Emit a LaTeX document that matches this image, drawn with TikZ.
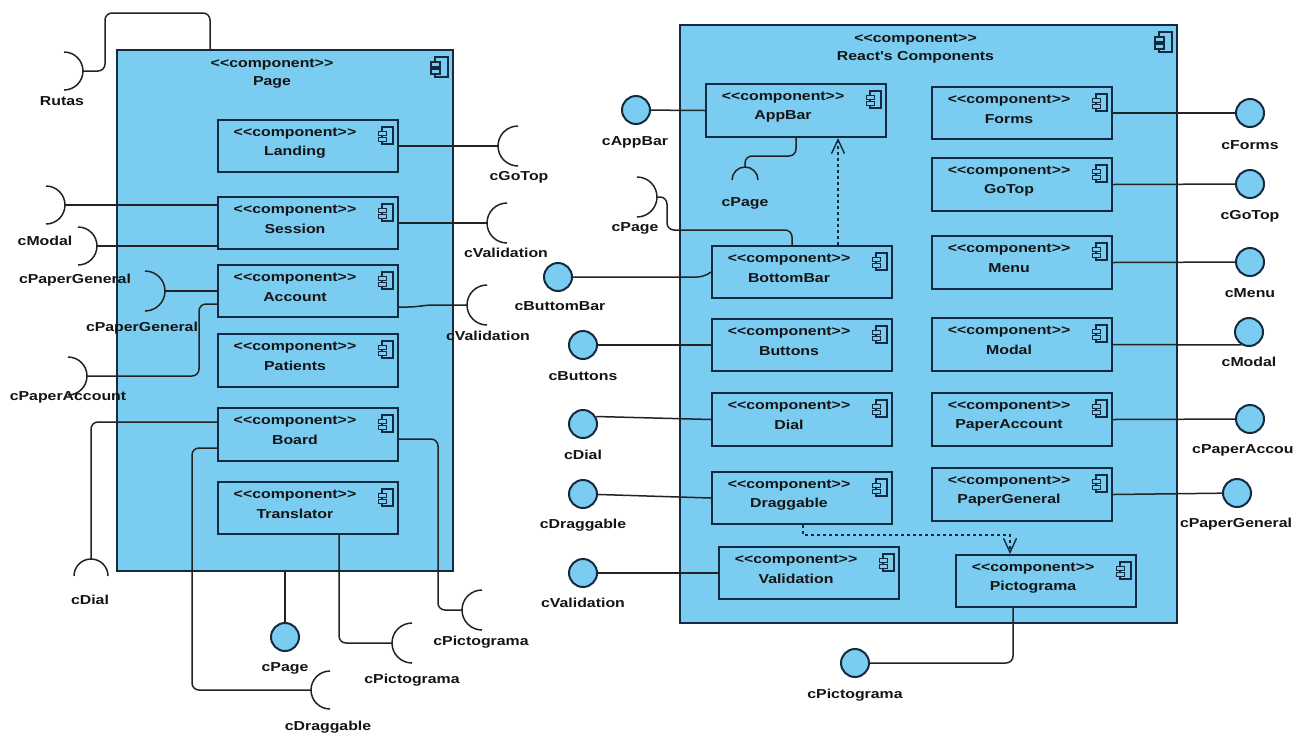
\documentclass[tikz,border=0pt]{standalone}
\usepackage{fontspec}
\newfontfamily\lblfont{Liberation Sans}[FakeStretch=1.22]
\usetikzlibrary{calc,fit,arrows.meta}
\definecolor{cfill}{RGB}{122,204,241}
\definecolor{cborder}{RGB}{20,42,64}
\definecolor{cline}{RGB}{35,35,35}
\definecolor{ctext}{RGB}{20,20,20}
\tikzset{
  compbox/.style={draw=cborder, line width=2pt, fill=cfill, inner sep=0pt},
  txt/.style={font=\lblfont\bfseries\fontsize{13}{15}\selectfont, text=ctext, inner sep=0pt},
  conn/.style={draw=cline, line width=1.5pt, rounded corners=7pt},
  sock/.style={draw=cline, line width=1.5pt},
  lolli/.style={circle, draw=cborder, line width=2pt, fill=cfill, minimum size=28pt, inner sep=0pt},
  dep/.style={draw=cborder, line width=1.4pt, dash pattern=on 3pt off 3pt, -{Straight Barb[length=14pt,width=13pt]}},
  cicon/.pic={
    \draw[draw=cborder, line width=1.3pt, fill=cfill] (-13,0) rectangle (0,20);
    \draw[draw=cborder, line width=1.3pt, fill=cfill] (-17,5) rectangle (-8,10);
    \draw[draw=cborder, line width=1.3pt, fill=cfill] (-17,12) rectangle (-8,17);
  }
}
\newcommand\mycomp[9]{%
  \node[compbox, fit={(#2,#3)(#4,#5)}] (#1) {};
  \node[txt] (#1-s) at ($(#1.north)+(-13,#7)$) {<\kern0pt<component>\kern0pt>};
  \node[txt] (#1-n) at ($(#1.north)+(-13,#8)$) {#6};
  \pic[scale=#9] at ($(#1.north east)+(-6,8)$) {cicon};
}
\newcommand\sockR[4]{\coordinate (#1) at (#2+#4,#3); \draw[sock] (#2,#3-#4) arc[start angle=-90,end angle=90,radius=#4];}
\newcommand\sockL[4]{\coordinate (#1) at (#2-#4,#3); \draw[sock] (#2,#3-#4) arc[start angle=270,end angle=90,radius=#4];}
\newcommand\sockD[4]{\coordinate (#1) at (#2,#3-#4); \draw[sock] (#2-#4,#3) arc[start angle=180,end angle=360,radius=#4];}
\begin{document}
\begin{tikzpicture}[x=1pt,y=-1pt]
\fill[white] (0,0) rectangle (1303,737);
\useasboundingbox (0,0) rectangle (1303,737);
% ---- containers
\mycomp{page}{117}{50}{453}{571}{Page}{16}{33}{1}
\mycomp{react}{680}{25}{1177}{623}{React's Components}{16}{33}{1}
% ---- Page inner
\mycomp{landing}{218}{120}{398}{172}{Landing}{15}{33}{0.85}
\mycomp{session}{218}{197}{398}{249}{Session}{15}{33}{0.85}
\mycomp{account}{218}{265}{398}{317}{Account}{15}{33}{0.85}
\mycomp{patients}{218}{334}{398}{387}{Patients}{15}{33}{0.85}
\mycomp{board}{218}{408}{398}{461}{Board}{15}{33}{0.85}
\mycomp{translator}{218}{482}{398}{534}{Translator}{15}{33}{0.85}
% ---- React inner, left column
\mycomp{appbar}{706}{84}{886}{137}{AppBar}{15}{33}{0.85}
\mycomp{bottombar}{712}{246}{892}{298}{BottomBar}{15}{33}{0.85}
\mycomp{buttons}{712}{319}{892}{371}{Buttons}{15}{33}{0.85}
\mycomp{dial}{712}{393}{892}{446}{Dial}{15}{33}{0.85}
\mycomp{draggable}{712}{472}{892}{524}{Draggable}{15}{33}{0.85}
\mycomp{validation}{719}{547}{899}{599}{Validation}{15}{33}{0.85}
% ---- React inner, right column
\mycomp{forms}{932}{87}{1112}{139}{Forms}{15}{33}{0.85}
\mycomp{gotop}{932}{158}{1112}{211}{GoTop}{15}{33}{0.85}
\mycomp{menu}{932}{236}{1112}{289}{Menu}{15}{33}{0.85}
\mycomp{modal}{932}{318}{1112}{371}{Modal}{15}{33}{0.85}
\mycomp{paperaccount}{932}{393}{1112}{446}{PaperAccount}{15}{33}{0.85}
\mycomp{papergeneral}{932}{468}{1112}{521}{PaperGeneral}{15}{33}{0.85}
\mycomp{pictograma}{956}{555}{1136}{607}{Pictograma}{15}{33}{0.85}
% ---- sockets (required interfaces)
\sockR{s-rutas}{64}{71}{19}
\sockR{s-cmodal}{46}{205}{19}
\sockR{s-cpg1}{78}{246}{19}
\sockR{s-cpg2}{145}{291}{20}
\sockR{s-cpa}{68}{376}{19}
\sockD{s-cdial}{91}{576}{17}
\sockL{s-cdrag}{330}{690}{19}
\sockL{s-cpic1}{482}{610}{20}
\sockL{s-cpic2}{412}{643}{20}
\sockL{s-cgotop}{518}{146}{20}
\sockL{s-cval1}{507}{223}{20}
\sockL{s-cval2}{487}{305}{20}
\sockD{s-cpage2}{745}{180}{13}
\sockR{s-cpage3}{637}{197}{20}
% ---- Page connectors
\coordinate (r1) at (210,13);
\draw[conn] (s-rutas) -- ($(s-rutas)+(22,0)$) |- (r1) -- (page.north -| r1);
\draw[conn] (s-cmodal) -- (s-cmodal -| session.west);
\draw[conn] (s-cpg1) -- (s-cpg1 -| session.west);
\draw[conn] (s-cpg2) -- (account.west);
\draw[conn] (s-cpa) -| ($(account.north west)+(-18,40)$) -- ($(account.north west)+(0,40)$);
\draw[conn] (s-cdial) |- ($(board.north west)+(0,15)$);
\draw[conn] ($(board.north west)+(0,41)$) -| ($(s-cdrag)+(-119,0)$) -- (s-cdrag);
\draw[conn] ($(board.north east)+(0,32)$) -| ($(s-cpic1)+(-24,0)$) -- (s-cpic1);
\draw[conn] ($(translator.south)+(31,0)$) |- (s-cpic2);
\node[lolli] (cpage1) at (285,637) {};
\draw[conn] (page.south) -- (cpage1);
\draw[conn] (landing.east) -- (s-cgotop);
\draw[conn] (session.east) -- (s-cval1);
\draw[conn] ($(account.north east)+(0,43)$) -- ++(16,0) -- ($(s-cval2)+(-40,0)$) -- (s-cval2);
% ---- React connectors, left
\node[lolli] (cappbar) at (636,110) {};
\draw[conn] (cappbar) -- (appbar.west);
\node[lolli] (cbuttombar) at (558,277) {};
\draw[conn] (cbuttombar.east) -- ($(bottombar.west)+(-7,5)$) -- (bottombar.west);
\node[lolli] (cbuttons) at (583,345) {};
\draw[conn] (cbuttons) -- (buttons.west);
\node[lolli] (cdial) at (583,424) {};
\draw[conn] (cdial.30) -- (dial.west);
\node[lolli] (cdraggable) at (583,494) {};
\draw[conn] (cdraggable) -- (draggable.west);
\node[lolli] (cvalidation) at (583,573) {};
\draw[conn] (cvalidation) -- (validation.west);
\draw[conn] (appbar.south) |- ($(s-cpage2)+(0,-11)$) -- (s-cpage2);
\draw[conn] (s-cpage3) -| ($(s-cpage3)+(10,33)$) -| ($(bottombar.north)+(-10,0)$);
\draw[dep] ($(bottombar.north)+(36,0)$) -- ($(appbar.south)+(42,0)$);
\draw[dep] ($(draggable.south)+(1,0)$) |- ($(pictograma.north)+(-36,-19)$) -- ($(pictograma.north)+(-36,0)$);
\node[lolli] (cpictograma) at (855,663) {};
\draw[conn] ($(pictograma.south)+(-33,0)$) |- (cpictograma.east);
% ---- React connectors, right
\node[lolli] (cforms) at (1250,113) {};
\draw[conn] (forms.east) -- (cforms);
\node[lolli] (cgotop) at (1250,184) {};
\draw[conn] (gotop.east) -- (cgotop);
\node[lolli] (cmenu) at (1250,262) {};
\draw[conn] (menu.east) -- (cmenu);
\node[lolli] (cmodal) at (1249,332) {};
\draw[conn] (modal.east) -- (cmodal.240);
\node[lolli] (cpaperaccount) at (1250,419) {};
\draw[conn] (paperaccount.east) -- (cpaperaccount);
\node[lolli] (cpapergeneral) at (1237,493) {};
\draw[conn] (papergeneral.east) -- (cpapergeneral);
% ---- labels
\node[txt] (l-rutas) at (62,101) {Rutas};
\node[txt] (l-cmodal) at (45,241) {cModal};
\node[txt] (l-cpg1) at (75,280) {cPaperGeneral};
\node[txt] (l-cpg2) at (142,328) {cPaperGeneral};
\node[txt] (l-cpa) at (68,397) {cPaperAccount};
\node[txt] (l-cdial1) at (90,600) {cDial};
\node[txt] (l-cdrag1) at (328,727) {cDraggable};
\node[txt] (l-cpic1) at (481,642) {cPictograma};
\node[txt] (l-cpic2) at (412,680) {cPictograma};
\node[txt] (l-cpage1) at (285,668) {cPage};
\node[txt] (l-cgotop1) at (519,177) {cGoTop};
\node[txt] (l-cval1) at (506,253) {cValidation};
\node[txt] (l-cval2) at (488,336) {cValidation};
\node[txt] (l-cappbar) at (635,142) {cAppBar};
\node[txt] (l-cpage2) at (745,203) {cPage};
\node[txt] (l-cpage3) at (635,228) {cPage};
\node[txt] (l-cbuttombar) at (560,306) {cButtomBar};
\node[txt] (l-cbuttons) at (583,376) {cButtons};
\node[txt] (l-cdial2) at (583,455) {cDial};
\node[txt] (l-cdrag2) at (583,525) {cDraggable};
\node[txt] (l-cval3) at (583,603) {cValidation};
\node[txt] (l-cpic3) at (855,695) {cPictograma};
\node[txt] (l-cforms) at (1250,145) {cForms};
\node[txt] (l-cgotop2) at (1250,216) {cGoTop};
\node[txt] (l-cmenu) at (1250,293) {cMenu};
\node[txt] (l-cmodal2) at (1249,362) {cModal};
\node[txt, anchor=west] (l-cpaperaccount) at (1192,450) {cPaperAccou};
\node[txt] (l-cpapergeneral) at (1236,524) {cPaperGeneral};
\end{tikzpicture}
\end{document}
